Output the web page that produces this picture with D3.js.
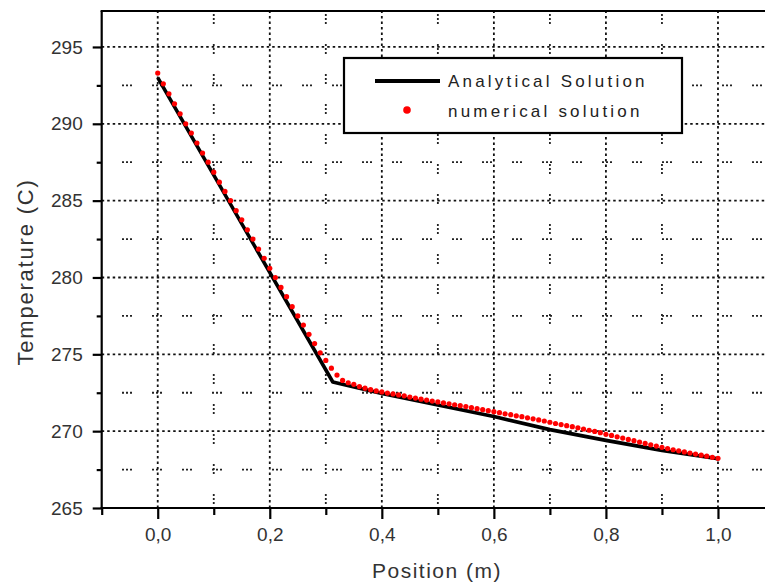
<!DOCTYPE html>
<html><head><meta charset="utf-8">
<script src="https://cdn.jsdelivr.net/npm/d3@7/dist/d3.min.js"></script>
<style>
body{margin:0;background:#fff}
svg{display:block;background:#fff}
text{font-family:"Liberation Sans",Arial,sans-serif}
</style>
</head><body>
<svg id="chart" width="765" height="586"></svg>
<script>
// ---------- data ----------
const xMajorTicks = [0, 0.2, 0.4, 0.6, 0.8, 1.0];
const xMinorTicks = [-0.1, 0.1, 0.3, 0.5, 0.7, 0.9, 1.1];
const xTickLabels = ["0,0", "0,2", "0,4", "0,6", "0,8", "1,0"];
const yMajorTicks = [265, 270, 275, 280, 285, 290, 295];
const yMinorTicks = [267.5, 272.5, 277.5, 282.5, 287.5, 292.5];
const yTickLabels = ["265", "270", "275", "280", "285", "290", "295"];

const analyticalX = [0, 0.3125, 0.4, 0.5, 0.6, 0.7, 0.8, 0.9, 1.0];
const analyticalT = [293.0, 273.2, 272.45, 271.7, 270.95, 270.1, 269.4, 268.75, 268.2];

const numericalX = [0,0.01,0.02,0.03,0.04,0.05,0.06,0.07,0.08,0.09,
 0.10,0.11,0.12,0.13,0.14,0.15,0.16,0.17,0.18,0.19,
 0.20,0.21,0.22,0.23,0.24,0.25,0.26,0.27,0.28,0.29,
 0.30,0.31,0.32,0.33,0.34,0.35,0.36,0.37,0.38,0.39,
 0.40,0.41,0.42,0.43,0.44,0.45,0.46,0.47,0.48,0.49,
 0.50,0.51,0.52,0.53,0.54,0.55,0.56,0.57,0.58,0.59,
 0.60,0.61,0.62,0.63,0.64,0.65,0.66,0.67,0.68,0.69,
 0.70,0.71,0.72,0.73,0.74,0.75,0.76,0.77,0.78,0.79,
 0.80,0.81,0.82,0.83,0.84,0.85,0.86,0.87,0.88,0.89,
 0.90,0.91,0.92,0.93,0.94,0.95,0.96,0.97,0.98,0.99,1.00];
const numericalT = [293.3,292.6,291.95,291.3,290.65,290.0,289.4,288.75,288.1,287.5,
 286.85,286.2,285.6,285.0,284.35,283.75,283.1,282.5,281.85,281.25,
 280.6,280.0,279.35,278.75,278.1,277.5,276.9,276.3,275.7,275.1,
 274.6,274.1,273.65,273.3,273.15,273.05,272.9,272.8,272.7,272.62,
 272.55,272.48,272.42,272.36,272.3,272.22,272.15,272.08,272.02,271.96,
 271.9,271.84,271.78,271.72,271.66,271.6,271.53,271.46,271.4,271.33,
 271.27,271.2,271.13,271.07,271.0,270.94,270.87,270.8,270.73,270.66,
 270.58,270.5,270.43,270.36,270.29,270.22,270.14,270.06,269.98,269.9,
 269.8,269.72,269.63,269.55,269.46,269.38,269.29,269.2,269.11,269.03,
 268.95,268.87,268.79,268.72,268.65,268.58,268.51,268.44,268.37,268.3,268.23];

const legendLabels = ["Analytical Solution", "numerical solution"];
const xTitle = "Position (m)";
const yTitle = "Temperature (C)";

// ---------- layout ----------
const pLeft = 101.7, pRight = 774, pTop = 11, pBottom = 508;
const svg = d3.select("#chart");
const x = d3.scaleLinear().domain([-0.1, 1.1]).range([pLeft, pRight]);
const y = d3.scaleLinear().domain([265, 297.34]).range([pBottom, pTop]);

// ---------- grid ----------
const grid = svg.append("g");
grid.selectAll(".mh").data(yMinorTicks).enter().append("line")
  .attr("x1", pLeft).attr("x2", pRight).attr("y1", d => y(d)).attr("y2", d => y(d))
  .attr("stroke", "#222").attr("stroke-width", 1.8)
  .attr("stroke-dasharray", "2,2,2,2,2,20").attr("stroke-dashoffset", 9.7);
grid.selectAll(".mv").data(xMinorTicks.filter(d => d > -0.1)).enter().append("line")
  .attr("x1", d => x(d)).attr("x2", d => x(d)).attr("y1", pBottom).attr("y2", pTop)
  .attr("stroke", "#222").attr("stroke-width", 1.8)
  .attr("stroke-dasharray", "2,2,2,2,2,20").attr("stroke-dashoffset", 26);
grid.selectAll(".Mh").data(yMajorTicks.filter(d => d > 265)).enter().append("line")
  .attr("x1", pLeft).attr("x2", pRight).attr("y1", d => y(d)).attr("y2", d => y(d))
  .attr("stroke", "#111").attr("stroke-width", 1.8).attr("stroke-dasharray", "2.5,3");
grid.selectAll(".Mv").data(xMajorTicks).enter().append("line")
  .attr("x1", d => x(d)).attr("x2", d => x(d)).attr("y1", pBottom).attr("y2", pTop)
  .attr("stroke", "#111").attr("stroke-width", 1.8).attr("stroke-dasharray", "2.5,3");

// ---------- series ----------
const analytical = analyticalX.map((v, i) => [v, analyticalT[i]]);
const numerical = numericalX.map((v, i) => [v, numericalT[i]]);
svg.append("path").datum(analytical)
  .attr("d", d3.line().x(d => x(d[0])).y(d => y(d[1])))
  .attr("fill", "none").attr("stroke", "#000").attr("stroke-width", 3.6)
  .attr("stroke-linejoin", "round");
svg.append("g").selectAll("circle").data(numerical).enter().append("circle")
  .attr("cx", d => x(d[0])).attr("cy", d => y(d[1])).attr("r", 2.6)
  .attr("fill", "#ff0000");

// ---------- axes ----------
const tickColor = "#000";
const yAx = svg.append("g").attr("transform", `translate(${pLeft},0)`)
  .call(d3.axisLeft(y).tickValues(yMajorTicks).tickSize(9).tickPadding(10)
    .tickFormat((d, i) => yTickLabels[i]).tickSizeOuter(0));
const yAxMinor = svg.append("g").attr("transform", `translate(${pLeft},0)`)
  .call(d3.axisLeft(y).tickValues(yMinorTicks).tickSize(5).tickFormat("").tickSizeOuter(0));
const xAx = svg.append("g").attr("transform", `translate(0,${pBottom})`)
  .call(d3.axisBottom(x).tickValues(xMajorTicks).tickSize(11).tickPadding(8.5)
    .tickFormat((d, i) => xTickLabels[i]).tickSizeOuter(0));
const xAxMinor = svg.append("g").attr("transform", `translate(0,${pBottom})`)
  .call(d3.axisBottom(x).tickValues(xMinorTicks).tickSize(7).tickFormat("").tickSizeOuter(0));
[yAx, yAxMinor, xAx, xAxMinor].forEach(g => {
  g.select(".domain").remove();
  g.selectAll(".tick line").attr("stroke", tickColor).attr("stroke-width", 2.2);
  g.selectAll("text").attr("fill", "#333").attr("font-size", 19)
    .attr("font-family", '"Liberation Sans",Arial,sans-serif');
});
svg.append("line").attr("x1", pLeft).attr("x2", pLeft).attr("y1", pTop).attr("y2", pBottom)
  .attr("stroke", "#000").attr("stroke-width", 2.2);
svg.append("line").attr("x1", pLeft - 1.1).attr("x2", pRight).attr("y1", pBottom).attr("y2", pBottom)
  .attr("stroke", "#000").attr("stroke-width", 2.2);
svg.append("line").attr("x1", pLeft - 1.1).attr("x2", pRight).attr("y1", pTop).attr("y2", pTop)
  .attr("stroke", "#000").attr("stroke-width", 2.2);

// ---------- titles ----------
svg.append("text").attr("x", 437).attr("y", 578).attr("text-anchor", "middle")
  .attr("font-size", 21).attr("letter-spacing", 1.5).attr("fill", "#333").text(xTitle);
svg.append("text").attr("transform", "translate(33,272) rotate(-90)").attr("text-anchor", "middle")
  .attr("font-size", 22).attr("letter-spacing", 1.8).attr("fill", "#333").text(yTitle);

// ---------- legend ----------
const lg = svg.append("g");
lg.append("rect").attr("x", 344).attr("y", 58).attr("width", 338).attr("height", 75)
  .attr("fill", "#fff").attr("stroke", "#000").attr("stroke-width", 2.2);
lg.append("line").attr("x1", 375).attr("x2", 440).attr("y1", 81).attr("y2", 81)
  .attr("stroke", "#000").attr("stroke-width", 4);
lg.append("circle").attr("cx", 407).attr("cy", 110).attr("r", 3.8).attr("fill", "#ff0000");
lg.selectAll("text.lt").data(legendLabels).enter().append("text")
  .attr("x", 448).attr("y", (d, i) => 87 + i * 30)
  .attr("font-size", 17).attr("letter-spacing", 3.2).attr("fill", "#222").text(d => d);
</script>
</body></html>
